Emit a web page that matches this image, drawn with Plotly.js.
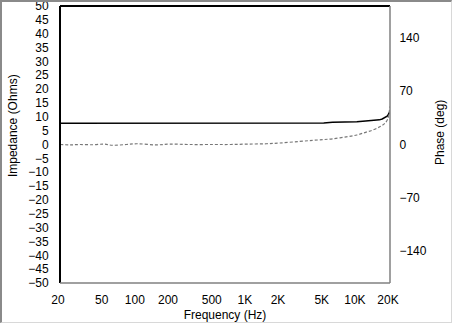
<!DOCTYPE html>
<html>
<head>
<meta charset="utf-8">
<script src="https://cdn.plot.ly/plotly-3.0.1.min.js"></script>
<style>
html,body{margin:0;padding:0;background:#fff;overflow:hidden;}
#wrap{position:relative;width:453px;height:326px;overflow:hidden;}
#chart{position:absolute;left:0;top:-6px;width:453px;height:332px;}
#frame{position:absolute;left:0;top:0;width:452px;height:323px;box-sizing:border-box;
border-top:2px solid #8a8a8a;border-left:2px solid #8a8a8a;border-right:1px solid #d8d8d8;border-bottom:1px solid #d8d8d8;pointer-events:none;}
</style>
</head>
<body>
<div id="wrap"><div id="chart"></div><div id="frame"></div></div>
<script>
var freq = [20, 25, 30, 40, 50, 60, 80, 100, 150, 200, 300, 500, 700, 1000, 1500, 2000, 3000, 4000, 5000, 6000, 8000, 10000, 12000, 14000, 16000, 17000, 18000, 19000, 20000];
var impedance = [7.7, 7.7, 7.7, 7.7, 7.75, 7.7, 7.7, 7.7, 7.7, 7.7, 7.7, 7.7, 7.7, 7.7, 7.7, 7.7, 7.7, 7.7, 7.75, 8.0, 8.0, 8.2, 8.5, 8.6, 8.9, 9.2, 9.7, 10.3, 12.0];
var phase = [0, -0.5, 0, -0.3, 0.5, -1, 0, 1, -0.5, 0.5, 0, 0, 0, 0.5, 1, 2, 4, 5.5, 6.5, 7.5, 10, 12.5, 16, 19, 23, 25, 28, 33, 50];
var xTickVals = [20, 50, 100, 200, 500, 1000, 2000, 5000, 10000, 20000];
var xTickText = ['20', '50', '100', '200', '500', '1K', '2K', '5K', '10K', '20K'];
var yTickVals = [-50,-45,-40,-35,-30,-25,-20,-15,-10,-5,0,5,10,15,20,25,30,35,40,45,50];
var y2TickVals = [-140, -70, 0, 70, 140];
var xTitle = 'Frequency (Hz)';
var yTitle = 'Impedance (Ohms)';
var y2Title = 'Phase (deg)';

var fnt = {family: 'Arial, "Liberation Sans", sans-serif', size: 12, color: '#000'};

var traces = [
  {x: freq, y: impedance, type: 'scatter', mode: 'lines', yaxis: 'y',
   line: {color: '#000', width: 1.5}, hoverinfo: 'skip'},
  {x: freq, y: phase, type: 'scatter', mode: 'lines', yaxis: 'y2',
   line: {color: '#777', width: 1.2, dash: '3px,2px', shape: 'spline'}, hoverinfo: 'skip'}
];

var layout = {
  width: 453, height: 332,
  margin: {l: 60, r: 63, t: 12, b: 43, pad: 0},
  paper_bgcolor: '#fff', plot_bgcolor: '#fff',
  showlegend: false,
  font: fnt,
  xaxis: {type: 'log', range: [Math.log10(20), Math.log10(20000)],
    tickmode: 'array', tickvals: xTickVals, ticktext: xTickText,
    showgrid: false, zeroline: false, showline: false,
    ticks: 'outside', ticklen: 6, tickcolor: 'rgba(0,0,0,0)', ticklabelshift: -2,
    tickfont: fnt, title: {text: xTitle, font: fnt, standoff: 4}},
  yaxis: {range: [-50, 50], tickmode: 'array', tickvals: yTickVals,
    showgrid: false, zeroline: false, showline: false,
    ticks: 'outside', ticklen: 8, tickcolor: 'rgba(0,0,0,0)',
    tickfont: fnt},
  yaxis2: {range: [-182, 182], overlaying: 'y', side: 'right', tickmode: 'array', tickvals: y2TickVals,
    showgrid: false, zeroline: false, showline: false,
    ticks: 'outside', ticklen: 6, tickcolor: 'rgba(0,0,0,0)',
    tickfont: fnt},
  annotations: [
    {text: yTitle, xref: 'paper', yref: 'paper', x: -0.142, y: 0.567, textangle: -90,
     showarrow: false, xanchor: 'center', yanchor: 'middle', font: fnt},
    {text: y2Title, xref: 'paper', yref: 'paper', x: 1.152, y: 0.542, textangle: -90,
     showarrow: false, xanchor: 'center', yanchor: 'middle', font: fnt}
  ],
  shapes: [
    {type: 'line', xref: 'paper', yref: 'paper', x0: 0, x1: 1, y0: 1, y1: 1, line: {color: '#000', width: 2}},
    {type: 'line', xref: 'paper', yref: 'paper', x0: 0, x1: 0, y0: 0, y1: 1, line: {color: '#000', width: 2}},
    {type: 'line', xref: 'paper', yref: 'paper', x0: 1, x1: 1, y0: 0, y1: 1, line: {color: '#808080', width: 1.5}},
    {type: 'line', xref: 'paper', yref: 'paper', x0: 0, x1: 1, y0: 0, y1: 0, line: {color: '#808080', width: 1.5}}
  ]
};

Plotly.newPlot('chart', traces, layout, {staticPlot: true, displayModeBar: false});
</script>
</body>
</html>
